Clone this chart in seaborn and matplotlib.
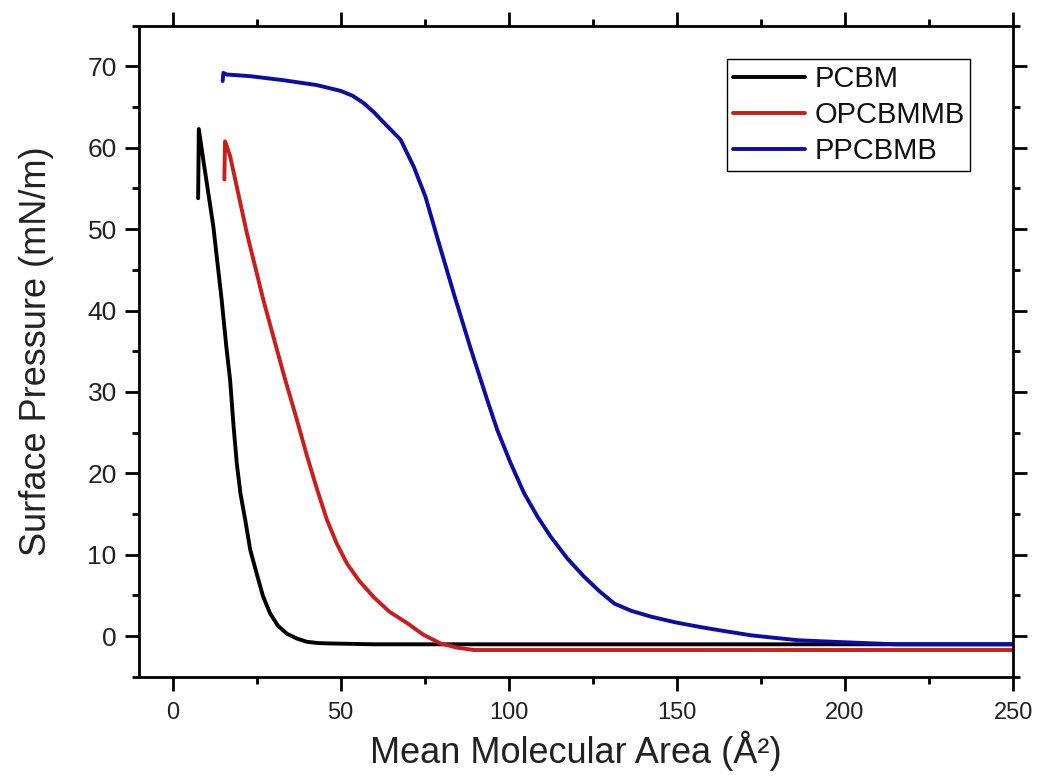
import pandas as pd
import matplotlib.pyplot as plt
import seaborn as sns

# Isotherm curves (area in Å², pressure in mN/m)
pcbm_area = [7.6, 7.8, 9.1, 12.1, 14.6, 16.0, 17.1, 18.1, 19.1, 20.2, 21.6, 23.1, 25.0, 26.9, 29.0, 31.3, 34.0,
             37.0, 40.0, 43.5, 47.0, 60.0, 100.0, 150.0, 200.0, 250.0]
pcbm_pressure = [53.8, 62.3, 58.6, 50.4, 41.3, 35.5, 31.5, 26.0, 21.2, 17.5, 14.3, 10.6, 7.7, 4.9, 2.8, 1.3, 0.3,
                 -0.3, -0.7, -0.85, -0.9, -1.0, -1.0, -1.0, -1.0, -1.0]

opcbmmb_area = [15.4, 15.6, 17.1, 22.1, 27.0, 30.5, 33.5, 35.0, 37.5, 40.0, 43.0, 45.9, 48.8, 51.9, 55.5, 59.8,
                64.5, 69.8, 74.5, 79.7, 84.5, 89.6, 100.0, 150.0, 200.0, 250.0]
opcbmmb_pressure = [56.1, 60.8, 59.0, 49.5, 41.3, 36.0, 31.5, 29.4, 25.8, 22.1, 18.0, 14.3, 11.4, 8.9, 6.8, 4.8,
                    3.0, 1.6, 0.2, -0.9, -1.4, -1.7, -1.7, -1.7, -1.7, -1.7]

ppcbmb_area = [14.9, 15.1, 16.1, 23.0, 33.0, 42.9, 49.9, 53.5, 56.8, 59.8, 62.8, 67.8, 71.7, 75.2, 78.7, 83.7,
               88.6, 93.6, 96.6, 100.5, 104.5, 108.5, 112.5, 117.5, 122.4, 127.0, 131.4, 136.5, 142.3, 149.5,
               157.2, 164.5, 172.1, 179.0, 186.0, 197.0, 215.0, 250.0]
ppcbmb_pressure = [68.2, 69.2, 69.0, 68.8, 68.3, 67.7, 67.0, 66.4, 65.5, 64.4, 63.1, 61.0, 57.7, 54.0, 49.0, 42.0,
                   35.4, 29.0, 25.3, 21.3, 17.6, 14.7, 12.2, 9.5, 7.3, 5.5, 4.0, 3.1, 2.4, 1.7,
                   1.1, 0.6, 0.1, -0.2, -0.5, -0.7, -1.0, -1.0]

series = {"PCBM": (pcbm_area, pcbm_pressure),
          "OPCBMMB": (opcbmmb_area, opcbmmb_pressure),
          "PPCBMB": (ppcbmb_area, ppcbmb_pressure)}
colors = {"PCBM": "#000000", "OPCBMMB": "#cc1c1c", "PPCBMB": "#0c0ca6"}

frames = []
for name, (xs, ys) in series.items():
    frames.append(pd.DataFrame({"area": xs, "pressure": ys, "sample": name}))
df = pd.concat(frames, ignore_index=True)

sns.set_theme(style="ticks")
plt.rcParams["font.family"] = ["Liberation Sans", "DejaVu Sans"]

fig = plt.figure(figsize=(10.37, 7.78), dpi=100)
ax = fig.add_axes([0.134, 0.130, 0.843, 0.837])

sns.lineplot(data=df, x="area", y="pressure", hue="sample", palette=colors,
             sort=False, estimator=None, linewidth=2.8, ax=ax)

ax.set_xlim(-10, 250)
ax.set_ylim(-5, 75)
ax.set_xticks(range(0, 251, 50))
ax.set_xticks(range(25, 251, 50), minor=True)
ax.set_yticks(range(0, 71, 10))
ax.set_yticks(range(-5, 76, 10), minor=True)

for side in ax.spines.values():
    side.set_linewidth(2.0)
    side.set_color("black")

ax.tick_params(which="both", direction="out", width=2.0, color="black",
               top=True, right=True, labelcolor="#222222")
ax.tick_params(which="major", length=10)
ax.tick_params(which="minor", length=5)
ax.tick_params(axis="x", pad=8, labelsize=17)
ax.tick_params(axis="y", pad=6, labelsize=19)

ax.set_xlabel("Mean Molecular Area (Å²)", fontsize=26, labelpad=5, color="#222222")
ax.set_ylabel("Surface Pressure (mN/m)", fontsize=26, labelpad=24, color="#222222")

leg = ax.legend(loc="upper right", bbox_to_anchor=(0.951, 0.949), borderaxespad=0,
                fontsize=21, frameon=True, fancybox=False, edgecolor="black",
                handlelength=2.5, handletextpad=0.3, labelspacing=0.28, borderpad=0.2)
leg.get_frame().set_linewidth(1.0)
leg.get_frame().set_alpha(1)
for text in leg.get_texts():
    text.set_color("#111111")
for line in leg.get_lines():
    line.set_linewidth(2.8)

fig.savefig("out.png", dpi=100)
